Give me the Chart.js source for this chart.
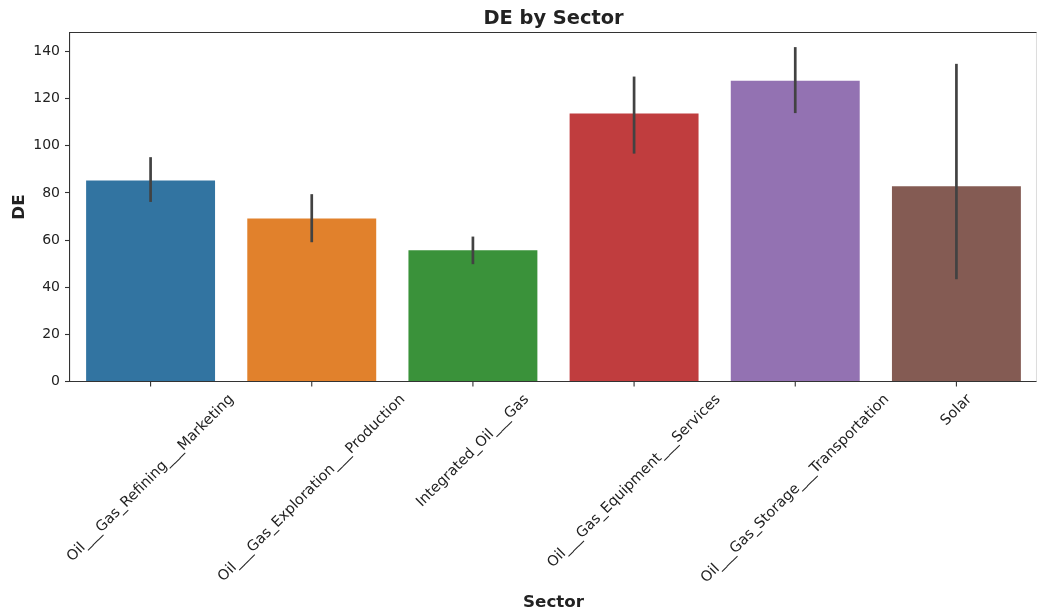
<!DOCTYPE html>
<html>
<head>
<meta charset="utf-8">
<title>DE by Sector</title>
<script src="https://cdn.jsdelivr.net/npm/chart.js@4.4.1/dist/chart.umd.min.js"></script>
<style>
  html, body { margin: 0; padding: 0; background: #fff; }
  canvas { display: block; }
</style>
</head>
<body>
<canvas id="deChart" width="1037" height="615"></canvas>
<script>
// sector means with 95% confidence interval bounds
var sectors = [
    'Oil___Gas_Refining___Marketing',
    'Oil___Gas_Exploration___Production',
    'Integrated_Oil___Gas',
    'Oil___Gas_Equipment___Services',
    'Oil___Gas_Storage___Transportation',
    'Solar'
];
var deMean = [85.3, 69.2, 55.7, 113.7, 127.6, 82.9];
var ciLow  = [76.2, 59.1, 49.8, 96.7, 113.9, 43.4];
var ciHigh = [95.2, 79.5, 61.5, 129.4, 141.9, 134.8];
var yTicks = [0, 20, 40, 60, 80, 100, 120, 140];

var palette = ['#3274a1', '#e1812c', '#3a923a', '#c03d3e', '#9372b2', '#845b53'];
var textColor = '#222';
var spineColor = '#333';

// error bars, frame, x tick labels and titles
var decorations = {
    id: 'decorations',
    afterDatasetsDraw: function(chart) {
        var ctx = chart.ctx;
        var xs = chart.scales.x, ys = chart.scales.y;
        var area = chart.chartArea;

        ctx.save();
        ctx.strokeStyle = '#424242';
        ctx.lineWidth = 2.7;
        ctx.lineCap = 'butt';
        for (var i = 0; i < sectors.length; i++) {
            var x = xs.getPixelForValue(i);
            ctx.beginPath();
            ctx.moveTo(x, ys.getPixelForValue(ciLow[i]));
            ctx.lineTo(x, ys.getPixelForValue(ciHigh[i]));
            ctx.stroke();
        }

        // top and right spines
        ctx.strokeStyle = spineColor;
        ctx.lineWidth = 1.1;
        ctx.beginPath();
        ctx.moveTo(area.left, area.top);
        ctx.lineTo(area.right, area.top);
        ctx.stroke();
        ctx.strokeStyle = '#ddd';
        ctx.beginPath();
        ctx.moveTo(area.right - 0.5, area.top);
        ctx.lineTo(area.right - 0.5, area.bottom);
        ctx.stroke();

        // x tick marks and rotated labels (centred under the tick)
        ctx.strokeStyle = spineColor;
        ctx.fillStyle = textColor;
        ctx.font = '14.5px "DejaVu Sans"';
        var labelTop = area.bottom + 4.9 + 4.9;
        for (var j = 0; j < sectors.length; j++) {
            var tx = xs.getPixelForValue(j);
            ctx.beginPath();
            ctx.moveTo(tx, area.bottom);
            ctx.lineTo(tx, area.bottom + 4.9);
            ctx.stroke();
            var w = ctx.measureText(sectors[j]).width;
            var h = 16.5;
            var half = (w + h) / Math.SQRT2 / 2;
            ctx.save();
            ctx.translate(tx, labelTop + half);
            ctx.rotate(-Math.PI / 4);
            ctx.textAlign = 'center';
            ctx.textBaseline = 'middle';
            ctx.fillText(sectors[j], 0, 0);
            ctx.restore();
        }

        ctx.textAlign = 'center';
        ctx.textBaseline = 'alphabetic';
        ctx.font = 'bold 19.4px "DejaVu Sans"';
        ctx.fillText('DE by Sector', (area.left + area.right) / 2, 23.5);
        ctx.font = 'bold 16.7px "DejaVu Sans"';
        ctx.fillText('Sector', (area.left + area.right) / 2, 607);
        ctx.save();
        ctx.translate(24, (area.top + area.bottom) / 2);
        ctx.rotate(-Math.PI / 2);
        ctx.fillText('DE', 0, 0);
        ctx.restore();
        ctx.restore();
    }
};

var cfg = {
    type: 'bar',
    data: {
        labels: sectors,
        datasets: [{
            label: 'DE',
            data: deMean,
            backgroundColor: palette,
            borderWidth: 0,
            barPercentage: 0.8,
            categoryPercentage: 1.0
        }]
    },
    options: {
        responsive: false,
        animation: false,
        layout: { padding: { top: 32.5, right: 0, bottom: 0, left: 0 } },
        plugins: {
            legend: { display: false },
            tooltip: { enabled: false },
            title: { display: false }
        },
        scales: {
            x: {
                type: 'category',
                grid: { display: false },
                border: { display: true, color: spineColor, width: 1.1 },
                ticks: { display: false },
                afterFit: function(scale) { scale.height = 233.5; }
            },
            y: {
                min: 0,
                max: 148.1,
                afterBuildTicks: function(scale) {
                    scale.ticks = yTicks.map(function(v) { return { value: v }; });
                },
                grid: {
                    drawOnChartArea: false,
                    drawTicks: true,
                    tickLength: 5,
                    tickWidth: 1.1,
                    color: spineColor
                },
                border: { display: true, color: spineColor, width: 1.1 },
                ticks: {
                    color: textColor,
                    padding: 5,
                    font: { family: 'DejaVu Sans', size: 14 }
                },
                afterFit: function(scale) { scale.width = 70; }
            }
        }
    },
    plugins: [decorations]
};

var ctx = document.getElementById('deChart').getContext('2d');
var deChart = new Chart(ctx, cfg);
</script>
</body>
</html>
